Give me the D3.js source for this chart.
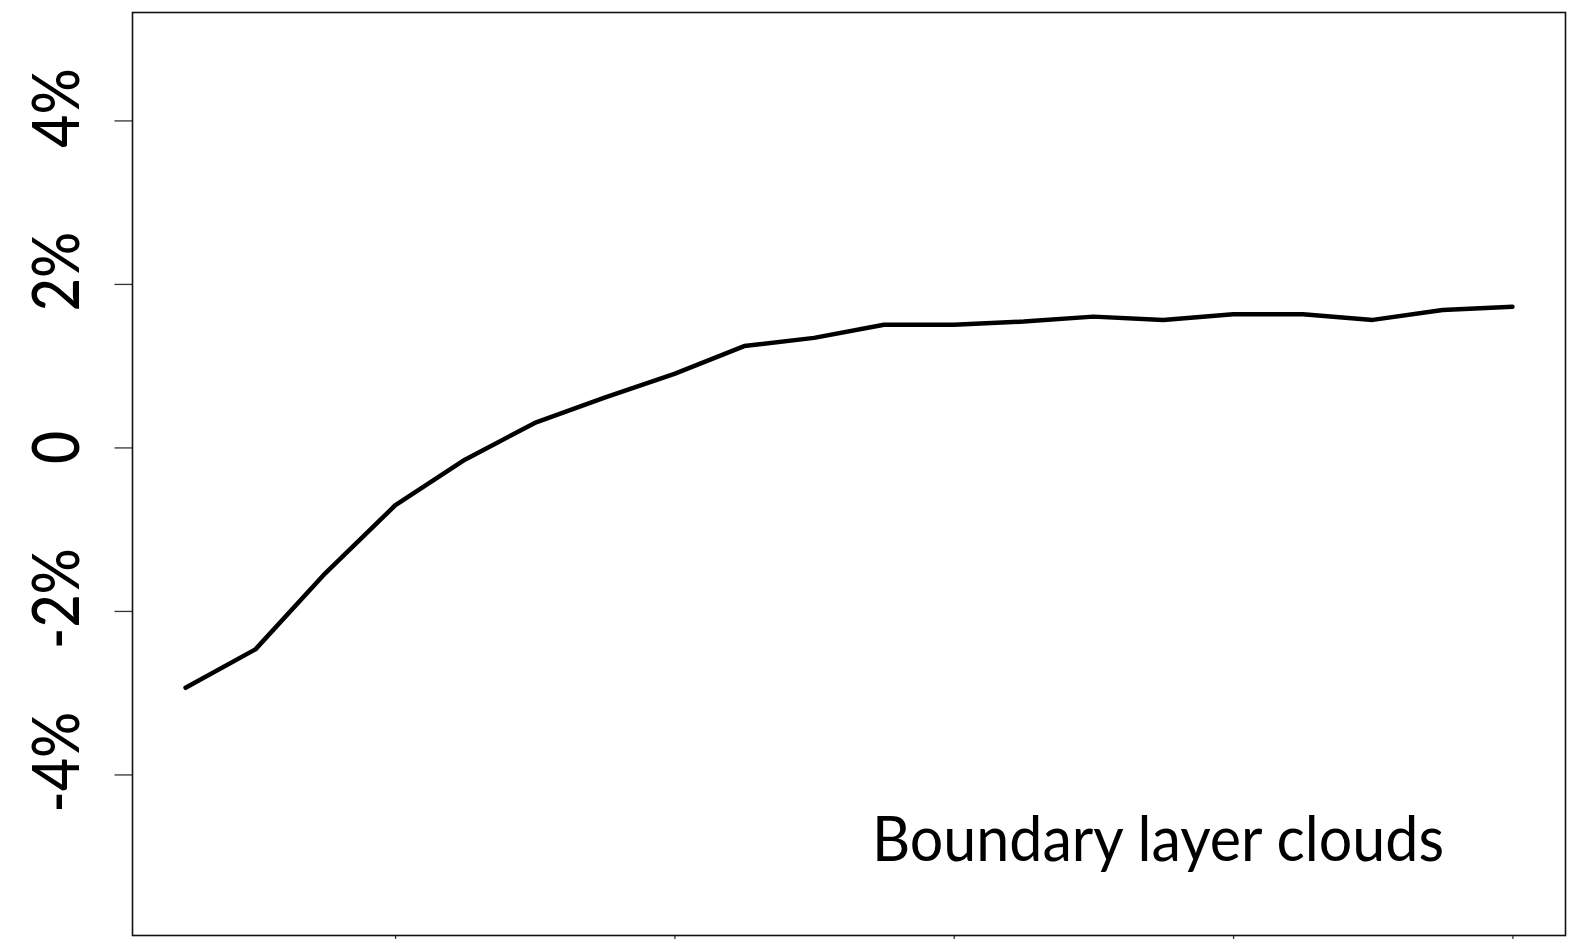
<!DOCTYPE html>
<html>
<head>
<meta charset="utf-8">
<script src="https://cdn.jsdelivr.net/npm/d3@7"></script>
<style>
  body { margin: 0; background: #fff; }
  svg { display: block; }
</style>
</head>
<body>
<div id="chart-area"></div>
<script>
// step index along x (1..20) and the response in percent
const steps = d3.range(1, 21);
const values = [-2.94, -2.47, -1.54, -0.71, -0.15, 0.30, 0.61, 0.90, 1.24, 1.34,
                1.50, 1.50, 1.54, 1.60, 1.56, 1.63, 1.63, 1.56, 1.68, 1.72];
const xTicks = [4, 8, 12, 16, 20];
const yTicks = [-4, -2, 0, 2, 4];
const yTickLabels = ["-4%", "-2%", "0", "2%", "4%"];
const label = "Boundary layer clouds";

const W = 1588, H = 939;
const margin = { top: 12.5, right: 22.5, bottom: 3.5, left: 132.5 };
const width = W - margin.left - margin.right;
const height = H - margin.top - margin.bottom;

const svg = d3.select("#chart-area")
  .append("svg")
  .attr("width", W)
  .attr("height", H);

const g = svg.append("g")
  .attr("transform", `translate(${margin.left}, ${margin.top})`);

// R-style 4% padding on x
const x = d3.scaleLinear()
  .domain([0.24, 20.76])
  .range([0, width]);

const y = d3.scaleLinear()
  .domain([-5.97, 5.32])
  .range([height, 0]);

const xAxis = d3.axisBottom(x)
  .tickValues(xTicks)
  .tickSize(18)
  .tickFormat("");

const yAxis = d3.axisLeft(y)
  .tickValues(yTicks)
  .tickSize(18)
  .tickFormat("");

const xg = g.append("g")
  .attr("transform", `translate(0, ${height})`)
  .call(xAxis);

const yg = g.append("g")
  .call(yAxis);

[xg, yg].forEach(a => {
  a.select(".domain").remove();
  a.selectAll(".tick line")
    .attr("stroke", "#333")
    .attr("stroke-width", 1.3);
});

// frame
g.append("rect")
  .attr("x", 0)
  .attr("y", 0)
  .attr("width", width)
  .attr("height", height)
  .attr("fill", "none")
  .attr("stroke", "#111")
  .attr("stroke-width", 1.6);

// rotated y tick labels
g.selectAll(".ylab")
  .data(yTicks)
  .enter()
  .append("text")
  .attr("class", "ylab")
  .attr("transform", d => `translate(-53.5, ${y(d)}) rotate(-90) scale(0.88, 1)`)
  .attr("text-anchor", "middle")
  .attr("dx", d => d === 0 ? 0 : 14)
  .attr("font-family", "Lato, 'Open Sans', sans-serif")
  .attr("font-size", "65px")
  .attr("font-weight", 500)
  .attr("fill", "#000")
  .text((d, i) => yTickLabels[i]);

const line = d3.line()
  .x((d, i) => x(steps[i]))
  .y(d => y(d));

g.append("path")
  .datum(values)
  .attr("d", line)
  .attr("fill", "none")
  .attr("stroke", "#000")
  .attr("stroke-width", 4.5)
  .attr("stroke-linejoin", "round")
  .attr("stroke-linecap", "round");

svg.append("text")
  .attr("x", 872)
  .attr("y", 861)
  .attr("font-family", "Lato, 'Open Sans', sans-serif")
  .attr("font-size", "61px")
  .attr("textLength", 572)
  .attr("lengthAdjust", "spacingAndGlyphs")
  .attr("fill", "#000")
  .text(label);
</script>
</body>
</html>
